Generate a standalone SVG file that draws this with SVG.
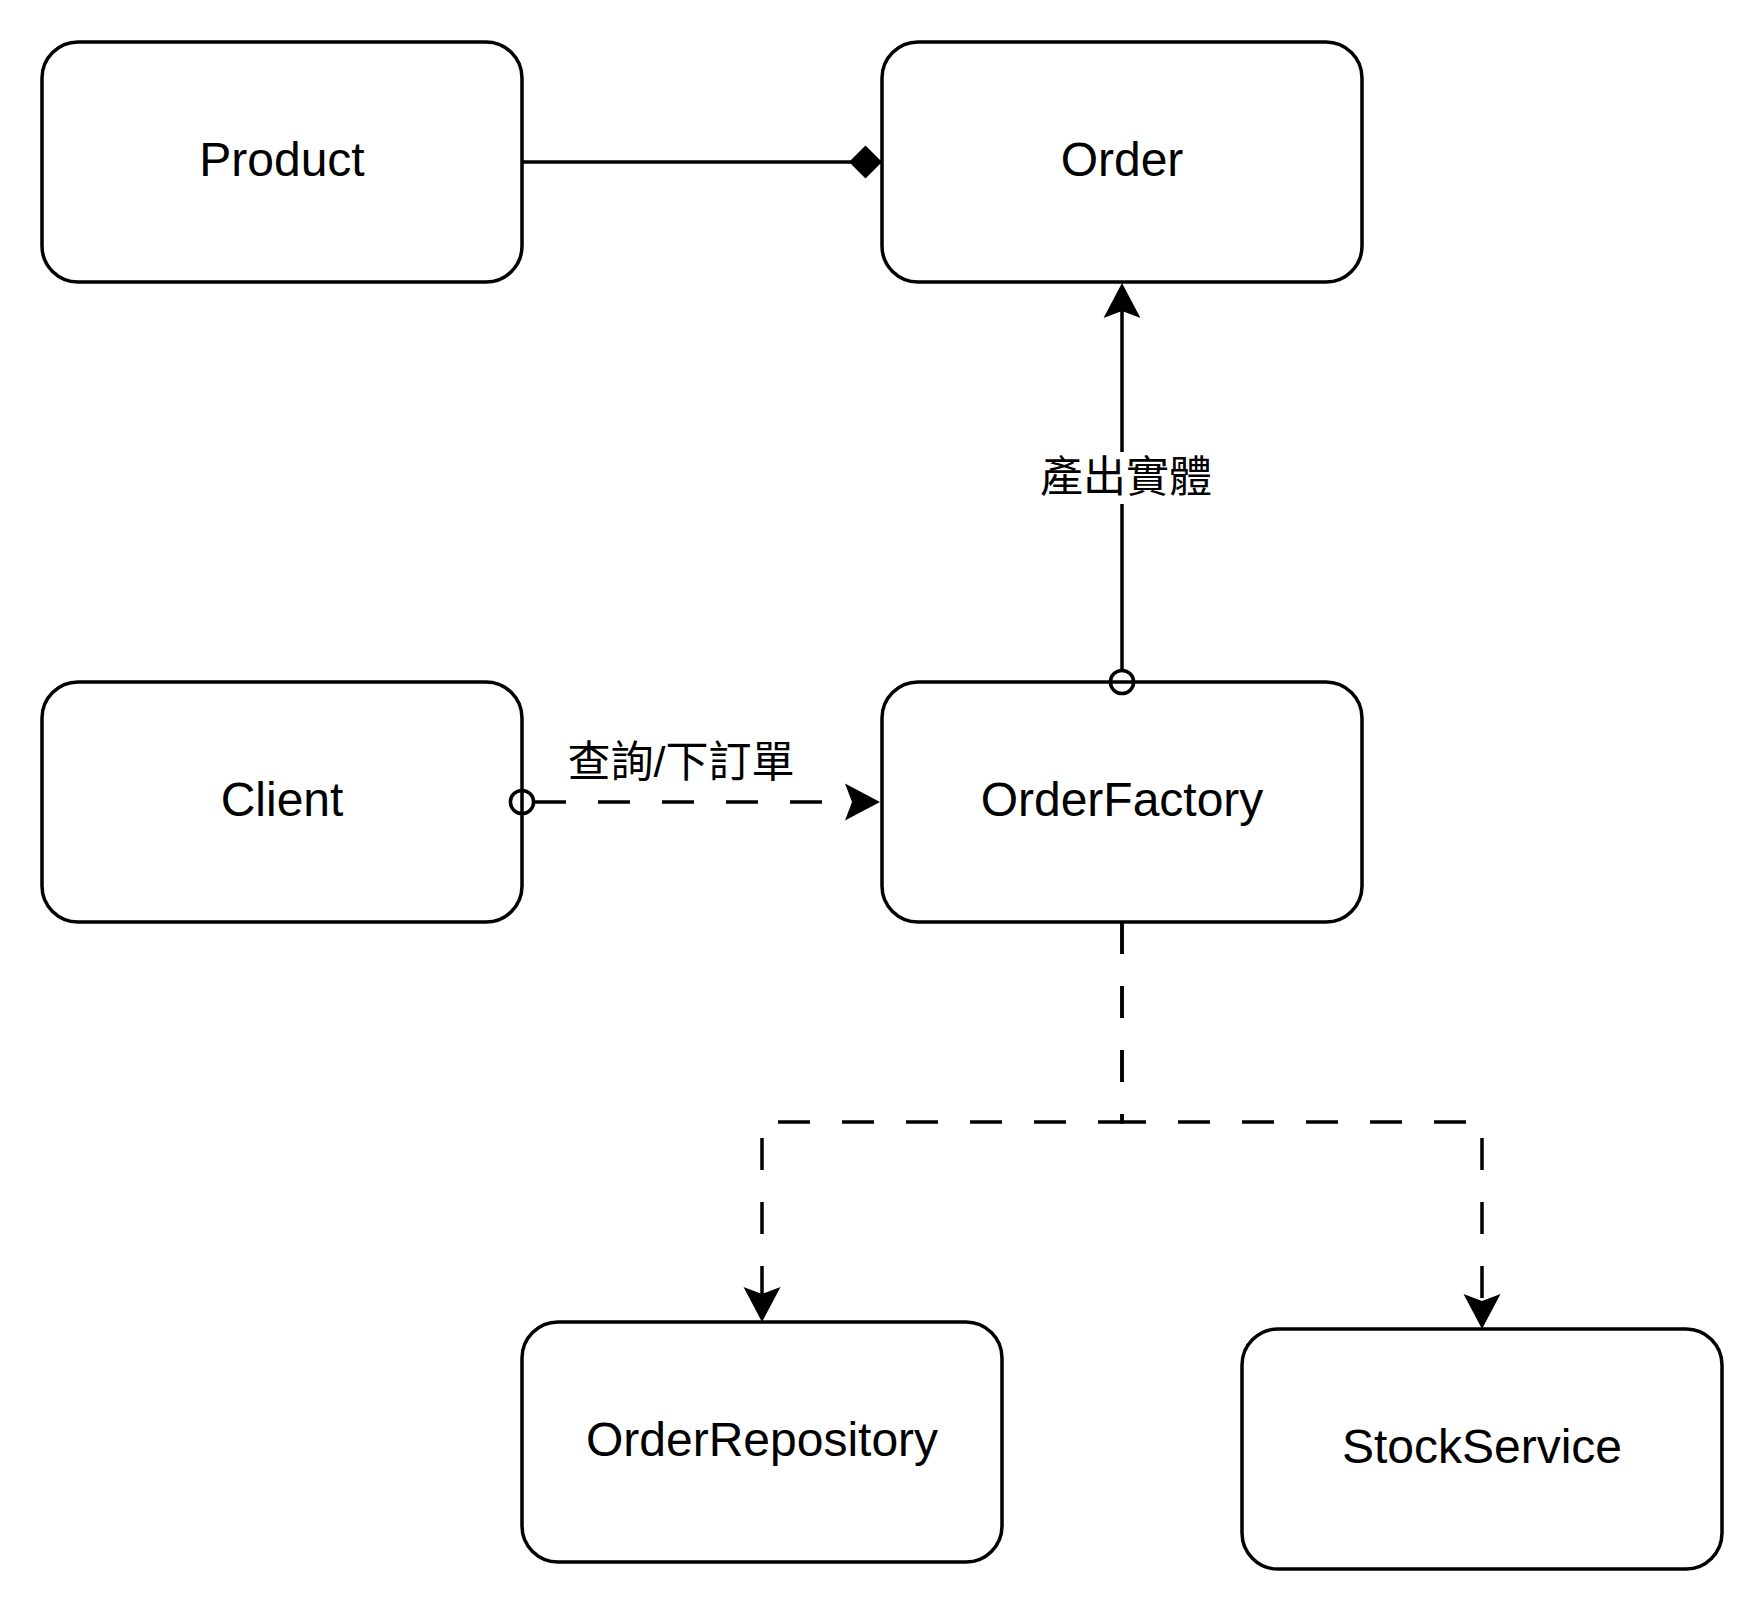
<svg xmlns="http://www.w3.org/2000/svg" width="1764" height="1616" viewBox="0 0 1764 1616">
<style>
.box{fill:#fff;stroke:#000;stroke-width:3.5}
.lbl{font-family:"Liberation Sans",Arial,Helvetica,sans-serif;font-size:48px;fill:#000;text-anchor:middle}
.edge{fill:none;stroke:#000;stroke-width:3.5}
.dash{stroke-dasharray:32 32}
.ring{fill:none;stroke:#000;stroke-width:3.5}
.elbl{font-family:"Liberation Sans","Noto Sans CJK TC",sans-serif;font-size:43px;fill:#000;text-anchor:middle}
</style>
<defs>
<marker id="arrow" markerUnits="userSpaceOnUse" viewBox="-8 -20 37 40" refX="0" refY="0" markerWidth="37" markerHeight="40" orient="auto" overflow="visible">
<path d="M28,0 L-7,-18.5 L0,0 L-7,18.5 Z" fill="#000" stroke="none"/>
</marker>
<marker id="diamond" markerUnits="userSpaceOnUse" viewBox="-34 -17 34 34" refX="0" refY="0" markerWidth="34" markerHeight="34" orient="auto" overflow="visible">
<path d="M0,0 L-16.5,-16.5 L-33,0 L-16.5,16.5 Z" fill="#000" stroke="none"/>
</marker>
</defs>
<rect width="1764" height="1616" fill="#fff"/>
<g id="node-product">
<rect class="box" x="42" y="42" width="480" height="240" rx="36" ry="36"/>
<text class="lbl" x="282" y="176">Product</text>
</g>
<g id="node-order">
<rect class="box" x="882" y="42" width="480" height="240" rx="36" ry="36"/>
<text class="lbl" x="1122" y="176">Order</text>
</g>
<g id="node-client">
<rect class="box" x="42" y="682" width="480" height="240" rx="36" ry="36"/>
<text class="lbl" x="282" y="816">Client</text>
</g>
<g id="node-orderfactory">
<rect class="box" x="882" y="682" width="480" height="240" rx="36" ry="36"/>
<text class="lbl" x="1122" y="816">OrderFactory</text>
</g>
<g id="node-orderrepository">
<rect class="box" x="522" y="1322" width="480" height="240" rx="36" ry="36"/>
<text class="lbl" x="762" y="1456">OrderRepository</text>
</g>
<g id="node-stockservice">
<rect class="box" x="1242" y="1329" width="480" height="240" rx="36" ry="36"/>
<text class="lbl" x="1482" y="1463">StockService</text>
</g>
<g id="connectors">
<g id="edge-product-order">
<path class="edge" d="M522,162 L882,162" marker-end="url(#diamond)"/>
</g>
<g id="edge-factory-order">
<path class="edge" d="M1122,670 L1122,311" marker-end="url(#arrow)"/>
<circle class="ring" cx="1122" cy="682" r="11.6"/>
<rect x="1036" y="452" width="180" height="52" fill="#fff"/>
<text class="elbl" x="1126" y="492">產出實體</text>
</g>
<g id="edge-client-factory">
<path class="edge dash" d="M534,802 L852,802" marker-end="url(#arrow)"/>
<circle class="ring" cx="522" cy="802" r="11.6"/>
<text class="elbl" x="681" y="777">查詢/下訂單</text>
</g>
<g id="edge-factory-repo">
<path class="edge dash" d="M1122,922 L1122,1122 L762,1122 L762,1294" marker-end="url(#arrow)"/>
</g>
<g id="edge-factory-stock">
<path class="edge dash" d="M1122,922 L1122,1122 L1482,1122 L1482,1301" marker-end="url(#arrow)"/>
</g>
</g>
</svg>
